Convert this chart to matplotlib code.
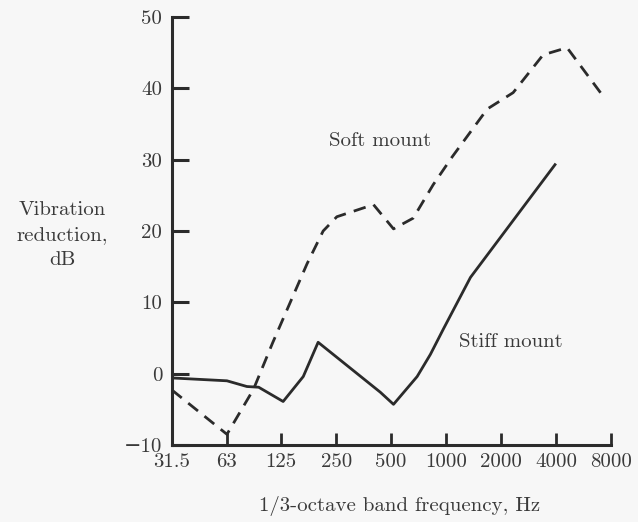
import numpy as np
import matplotlib.pyplot as plt

# Soft mount (dashed) readings
soft_f = [31.5, 63, 88, 112, 140, 173, 212, 252, 400, 515, 660, 850, 1080, 1680, 2330, 3400, 4600, 7200]
soft_db = [-2.3, -8.5, -2.2, 4.3, 10.0, 15.4, 20.0, 22.0, 23.7, 20.3, 21.8, 26.5, 30.4, 37.1, 39.4, 44.7, 45.7, 39.0]

# Stiff mount (solid) readings
stiff_f = [31.5, 63, 81, 94, 128, 165, 199, 436, 515, 694, 820, 968, 1360, 3950]
stiff_db = [-0.6, -1.0, -1.8, -1.9, -3.9, -0.4, 4.4, -2.6, -4.3, -0.4, 2.7, 6.3, 13.5, 29.3]

xticks = [31.5, 63, 125, 250, 500, 1000, 2000, 4000, 8000]
xticklabels = ['31.5', '63', '125', '250', '500', '1000', '2000', '4000', '8000']
yticks = [-10, 0, 10, 20, 30, 40, 50]

plt.rcParams['font.family'] = ['cmr10', 'DejaVu Serif']
plt.rcParams['axes.formatter.use_mathtext'] = True

ink = '#2b2b2b'
txt = '#3a3a3a'
bg = '#f7f7f7'
fs = 15

fig = plt.figure(figsize=(6.38, 5.22), dpi=100, facecolor=bg)
ax = fig.add_axes([0.2696, 0.1475, 0.688, 0.8199], facecolor=bg)

ax.plot(soft_f, soft_db, color=ink, lw=2.0, dashes=(4.5, 3.0))
ax.plot(stiff_f, stiff_db, color=ink, lw=2.0)

ax.set_xscale('log', base=2)
ax.set_xlim(31.5, 8000)
ax.set_ylim(-10, 50)
ax.set_xticks(xticks)
ax.set_xticklabels(xticklabels)
ax.minorticks_off()
ax.set_yticks(yticks)
ax.set_yticklabels(['\u221210' if v < 0 else str(v) for v in yticks])

for s in ['top', 'right']:
    ax.spines[s].set_visible(False)
for s in ['left', 'bottom']:
    ax.spines[s].set_linewidth(2.2)
    ax.spines[s].set_color(ink)

ax.tick_params(axis='y', direction='in', length=12, width=2.2, color=ink,
               labelsize=fs, labelcolor=txt, pad=7)
ax.tick_params(axis='x', direction='in', length=9, width=2.0, color=ink,
               labelsize=fs, labelcolor=txt, pad=6)

ax.text(436, 32.6, 'Soft mount', fontsize=fs, color=txt, ha='center', va='center')
ax.text(2254, 4.5, 'Stiff mount', fontsize=fs, color=txt, ha='center', va='center')

fig.text(62 / 638, 1 - 235 / 522, 'Vibration\nreduction,\ndB', fontsize=fs, color=txt,
         ha='center', va='center', linespacing=1.5)
fig.text(400 / 638, 1 - 506 / 522, '1/3-octave band frequency, Hz', fontsize=fs, color=txt,
         ha='center', va='center')

fig.savefig('out.png', dpi=100, facecolor=bg)
